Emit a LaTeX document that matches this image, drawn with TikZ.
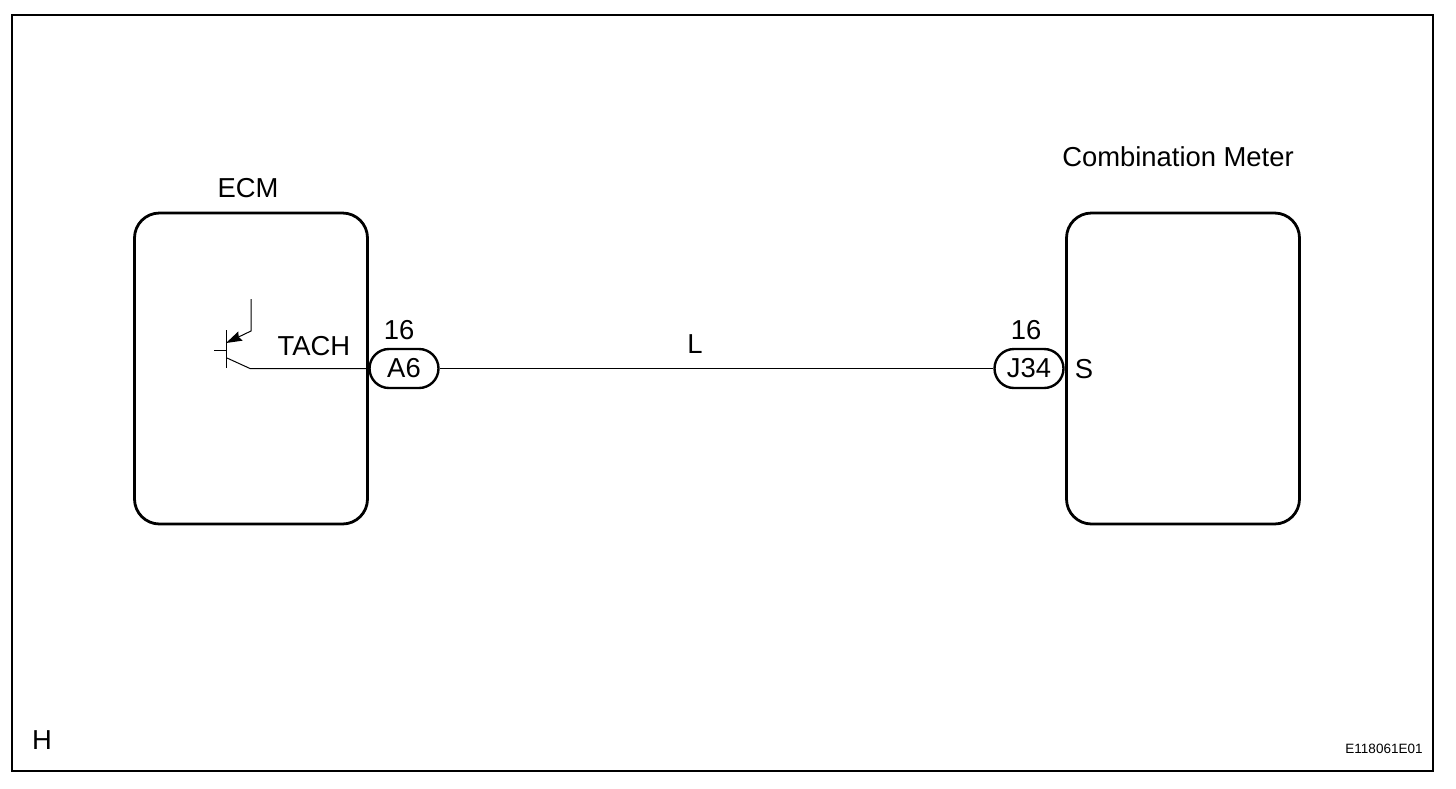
\documentclass[tikz,border=0pt]{standalone}
\usepackage{fontspec}
\setmainfont{Liberation Sans}
\usetikzlibrary{positioning, arrows.meta}
\tikzset{
	unit/.append style={
		draw,
		line width=2.8pt,
		rounded corners=25pt,
		outer sep=0pt,
		minimum width=233pt,
		minimum height=311pt,
	},
	plug/.append style={
		draw,
		line width=2.4pt,
		rounded corners=19.5pt,
		minimum width=69pt,
		minimum height=39pt,
		inner sep=0pt,
		font=\fontsize{27.4}{27.4}\selectfont,
	},
	labe/.append style={
		inner sep=0pt,
		font=\fontsize{27.4}{27.4}\selectfont,
	},
	wire/.append style={
		line width=1pt,
	},
}
\begin{document}
\begin{tikzpicture}[x=1pt,y=-1pt]
\useasboundingbox (0,0) rectangle (1456,788);

\node(frame)[draw,line width=2.4pt,outer sep=0pt,minimum width=1421pt,minimum height=756pt,anchor=north west] at (12,15) {};

\node(ecm)[unit] at (251,368.5) {};
\node(meter)[unit] at (1183,368.5) {};
\node(ecmname)[labe] at (248,188) {ECM};
\node(metername)[labe] at (1178,157) {Combination Meter};

\node(a6)[plug] at (404,368.5) {A6};
\node(j34)[plug] at (1029,368.5) {J34};
\node(a6pin)[labe] at (399,330) {16};
\node(j34pin)[labe] at (1026,330) {16};
\node(tach)[labe] at (314,346) {TACH};
\node(spin)[labe] at (1084,369) {S};
\node(line)[labe] at (695,344) {L};

\node(side)[labe] at (42,740) {H};
\node(code)[labe,font=\fontsize{13.5}{13.5}\selectfont] at (1384,749) {E118061E01};

% transistor
\coordinate(basetop) at (226,330);
\coordinate(basebot) at (226,368);
\coordinate(basein) at (214,350);
\coordinate(basemid) at (226,350);
\coordinate(emit) at (226,343);
\coordinate(knee) at (251,331);
\coordinate(supply) at (251,299);
\coordinate(coll) at (227,358);
\coordinate(out) at (250,368.5);

\draw[wire] (basetop) -- (basebot);
\draw[wire] (basein) -- (basemid);
\draw[wire,-{Stealth[length=16pt,width=10pt,inset=2pt]}] (supply) -- (knee) -- (emit);
\draw[wire] (coll) -- (out) -- (a6.west);
\draw[wire] (a6) -- (j34);

\end{tikzpicture}
\end{document}
